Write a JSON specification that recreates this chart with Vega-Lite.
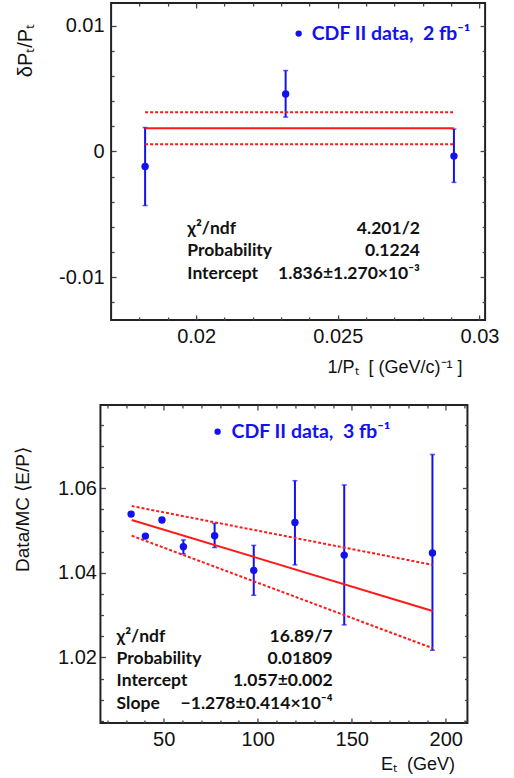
{
  "$schema": "https://vega.github.io/schema/vega-lite/v6.json",
  "background": "white",
  "padding": {"left": 12, "top": 1, "right": 0, "bottom": 0},
  "config": {
    "view": {"stroke": "#222", "strokeWidth": 2},
    "text": {"font": "Lato"},
    "axis": {"domain": false, "grid": false, "tickColor": "#444", "tickWidth": 1.3, "labelOverlap": false, "labelFlush": false, "labelBound": false, "labelFont": "Liberation Sans", "labelColor": "#111", "titleFont": "Liberation Sans", "titleColor": "#111", "titleFontWeight": "normal"}
  },
  "datasets": {
    "top_pts": [
      {"x": 0.0182, "y": -0.00119, "lo": -0.0043, "hi": 0.0019},
      {"x": 0.02316, "y": 0.00456, "lo": 0.00273, "hi": 0.00643},
      {"x": 0.0291, "y": -0.00037, "lo": -0.00246, "hi": 0.00178}
    ],
    "top_fit": [
      {"x": 0.0182, "y": 0.001836, "b": "fit"},
      {"x": 0.0291, "y": 0.001836, "b": "fit"},
      {"x": 0.0182, "y": 0.003106, "b": "up"},
      {"x": 0.0291, "y": 0.003106, "b": "up"},
      {"x": 0.0182, "y": 0.000566, "b": "lo"},
      {"x": 0.0291, "y": 0.000566, "b": "lo"}
    ],
    "top_leg": [{"x": 0.02362, "tx": 0.02408, "y": 0.00937, "t": "CDF II data,\u00a0 2 fb⁻¹"}],
    "top_stats": [
      {"x": 0.01969, "xv": 0.0279, "y": -0.00613, "label": "χ²/ndf", "val": "4.201/2"},
      {"x": 0.01969, "xv": 0.0279, "y": -0.00789, "label": "Probability", "val": "0.1224"},
      {"x": 0.01969, "xv": 0.0279, "y": -0.00971, "label": "Intercept", "val": "1.836±1.270×10⁻³"}
    ],
    "bot_pts": [
      {"x": 32.7, "y": 1.0539, "lo": 1.0534, "hi": 1.0544},
      {"x": 40.3, "y": 1.0487, "lo": 1.0482, "hi": 1.0492},
      {"x": 49.1, "y": 1.0525, "lo": 1.052, "hi": 1.053},
      {"x": 60.5, "y": 1.0462, "lo": 1.0445, "hi": 1.0478},
      {"x": 77.1, "y": 1.0488, "lo": 1.046, "hi": 1.0517},
      {"x": 97.9, "y": 1.0406, "lo": 1.0347, "hi": 1.0465},
      {"x": 119.8, "y": 1.0519, "lo": 1.0419, "hi": 1.0618},
      {"x": 146, "y": 1.0442, "lo": 1.0277, "hi": 1.0608},
      {"x": 192.9, "y": 1.0447, "lo": 1.0217, "hi": 1.068}
    ],
    "bot_fit": [
      {"x": 33, "y": 1.0525, "b": "fit"},
      {"x": 193, "y": 1.031, "b": "fit"},
      {"x": 33, "y": 1.0558, "b": "up"},
      {"x": 193, "y": 1.0419, "b": "up"},
      {"x": 33, "y": 1.0488, "b": "lo"},
      {"x": 193, "y": 1.0222, "b": "lo"}
    ],
    "bot_leg": [{"x": 78.7, "tx": 86.1, "y": 1.0734, "t": "CDF II data,\u00a0 3 fb⁻¹"}],
    "bot_stats": [
      {"x": 25, "xv": 139.8, "y": 1.0248, "label": "χ²/ndf", "val": "16.89/7"},
      {"x": 25, "xv": 139.8, "y": 1.0196, "label": "Probability", "val": "0.01809"},
      {"x": 25, "xv": 139.8, "y": 1.0144, "label": "Intercept", "val": "1.057±0.002"},
      {"x": 25, "xv": 139.8, "y": 1.009, "label": "Slope", "val": "−1.278±0.414×10⁻⁴"}
    ]
  },
  "concat": [
    {
      "width": 374,
      "height": 317,
      "resolve": {"scale": {"x": "independent", "y": "independent"}, "axis": {"x": "independent", "y": "independent"}},
      "layer": [
        {
          "data": {"name": "top_pts"},
          "mark": {"type": "rule", "color": "#1212f0", "strokeWidth": 2},
          "encoding": {
            "x": {"field": "x", "type": "quantitative",
              "scale": {"domain": [0.017, 0.0302], "nice": false, "zero": false},
              "axis": {"orient": "bottom", "values": [0.02, 0.025, 0.03], "tickSize": 0,
                "format": "~g", "labelFontSize": 20, "labelPadding": 6,
                "title": "1/Pₜ\u00a0 [ (GeV/c)⁻¹ ]", "titleFontSize": 18, "titleX": 351, "titleAlign": "right", "titlePadding": 12}},
            "y": {"field": "lo", "type": "quantitative",
              "scale": {"domain": [-0.0134, 0.0118], "nice": false, "zero": false},
              "axis": {"orient": "left", "values": [-0.01, 0, 0.01], "tickSize": 0,
                "labelExpr": "replace(format(datum.value,'~g'),'−','-')",
                "labelFontSize": 20, "labelPadding": 7,
                "title": "δPₜ/Pₜ", "titleFontSize": 20, "titleY": 47, "titleX": -76}},
            "y2": {"field": "hi"}
          }
        },
        {
          "data": {"name": "top_pts"},
          "mark": {"type": "tick", "orient": "horizontal", "color": "#1212f0", "size": 5, "thickness": 1.5},
          "encoding": {
            "x": {"field": "x", "type": "quantitative",
              "scale": {"domain": [0.017, 0.0302], "nice": false, "zero": false},
              "axis": {"orient": "bottom", "offset": -5, "tickSize": 5, "values": [0.02, 0.025, 0.03], "labels": false, "title": null}},
            "y": {"field": "hi", "type": "quantitative",
              "scale": {"domain": [-0.0134, 0.0118], "nice": false, "zero": false},
              "axis": {"orient": "left", "offset": -5, "tickSize": 5, "values": [-0.01, 0, 0.01], "labels": false, "title": null}}
          }
        },
        {
          "data": {"name": "top_pts"},
          "mark": {"type": "tick", "orient": "horizontal", "color": "#1212f0", "size": 5, "thickness": 1.5},
          "encoding": {
            "x": {"field": "x", "type": "quantitative",
              "scale": {"domain": [0.017, 0.0302], "nice": false, "zero": false},
              "axis": {"orient": "bottom", "offset": -3, "tickSize": 3, "values": [0.018, 0.019, 0.021, 0.022, 0.023, 0.024, 0.026, 0.027, 0.028, 0.029], "labels": false, "title": null}},
            "y": {"field": "lo", "type": "quantitative",
              "scale": {"domain": [-0.0134, 0.0118], "nice": false, "zero": false},
              "axis": {"orient": "left", "offset": -3, "tickSize": 3, "values": [-0.012, -0.008, -0.006, -0.004, -0.002, 0.002, 0.004, 0.006, 0.008], "labels": false, "title": null}}
          }
        },
        {
          "data": {"name": "top_fit"},
          "transform": [{"filter": "datum.b === 'fit'"}],
          "mark": {"type": "line", "color": "#ff1a1a", "strokeWidth": 2},
          "encoding": {
            "x": {"field": "x", "type": "quantitative",
              "scale": {"domain": [0.017, 0.0302], "nice": false, "zero": false},
              "axis": {"orient": "top", "offset": -5, "tickSize": 5, "values": [0.02, 0.025, 0.03], "labels": false, "title": null}},
            "y": {"field": "y", "type": "quantitative",
              "scale": {"domain": [-0.0134, 0.0118], "nice": false, "zero": false},
              "axis": {"orient": "right", "offset": -5, "tickSize": 5, "values": [-0.01, 0, 0.01], "labels": false, "title": null}}
          }
        },
        {
          "data": {"name": "top_fit"},
          "transform": [{"filter": "datum.b !== 'fit'"}],
          "mark": {"type": "line", "color": "#ff1a1a", "strokeWidth": 2, "strokeDash": [3, 2]},
          "encoding": {
            "x": {"field": "x", "type": "quantitative",
              "scale": {"domain": [0.017, 0.0302], "nice": false, "zero": false},
              "axis": {"orient": "top", "offset": -3, "tickSize": 3, "values": [0.018, 0.019, 0.021, 0.022, 0.023, 0.024, 0.026, 0.027, 0.028, 0.029], "labels": false, "title": null}},
            "y": {"field": "y", "type": "quantitative",
              "scale": {"domain": [-0.0134, 0.0118], "nice": false, "zero": false},
              "axis": {"orient": "right", "offset": -3, "tickSize": 3, "values": [-0.012, -0.008, -0.006, -0.004, -0.002, 0.002, 0.004, 0.006, 0.008], "labels": false, "title": null}},
            "detail": {"field": "b"}
          }
        },
        {
          "data": {"name": "top_pts"},
          "mark": {"type": "point", "filled": true, "opacity": 1, "color": "#1212f0", "size": 55},
          "encoding": {
            "x": {"field": "x", "type": "quantitative", "scale": {"domain": [0.017, 0.0302], "nice": false, "zero": false}, "axis": null},
            "y": {"field": "y", "type": "quantitative", "scale": {"domain": [-0.0134, 0.0118], "nice": false, "zero": false}, "axis": null}
          }
        },
        {
          "data": {"name": "top_leg"},
          "mark": {"type": "point", "filled": true, "opacity": 1, "color": "#1212f0", "size": 40},
          "encoding": {
            "x": {"field": "x", "type": "quantitative", "scale": {"domain": [0.017, 0.0302], "nice": false, "zero": false}, "axis": null},
            "y": {"field": "y", "type": "quantitative", "scale": {"domain": [-0.0134, 0.0118], "nice": false, "zero": false}, "axis": null}
          }
        },
        {
          "data": {"name": "top_leg"},
          "mark": {"type": "text", "align": "left", "baseline": "middle", "color": "#1212f0", "fontSize": 19.5, "fontWeight": "bold"},
          "encoding": {
            "x": {"field": "tx", "type": "quantitative", "scale": {"domain": [0.017, 0.0302], "nice": false, "zero": false}, "axis": null},
            "y": {"field": "y", "type": "quantitative", "scale": {"domain": [-0.0134, 0.0118], "nice": false, "zero": false}, "axis": null},
            "text": {"field": "t"}
          }
        },
        {
          "data": {"name": "top_stats"},
          "mark": {"type": "text", "align": "left", "baseline": "middle", "color": "#111", "fontSize": 17.5, "fontWeight": "bold"},
          "encoding": {
            "x": {"field": "x", "type": "quantitative", "scale": {"domain": [0.017, 0.0302], "nice": false, "zero": false}, "axis": null},
            "y": {"field": "y", "type": "quantitative", "scale": {"domain": [-0.0134, 0.0118], "nice": false, "zero": false}, "axis": null},
            "text": {"field": "label"}
          }
        },
        {
          "data": {"name": "top_stats"},
          "mark": {"type": "text", "align": "right", "baseline": "middle", "color": "#111", "fontSize": 17.5, "fontWeight": "bold"},
          "encoding": {
            "x": {"field": "xv", "type": "quantitative", "scale": {"domain": [0.017, 0.0302], "nice": false, "zero": false}, "axis": null},
            "y": {"field": "y", "type": "quantitative", "scale": {"domain": [-0.0134, 0.0118], "nice": false, "zero": false}, "axis": null},
            "text": {"field": "val"}
          }
        }
      ]
    },
    {
      "width": 367,
      "height": 318,
      "resolve": {"scale": {"x": "independent", "y": "independent"}, "axis": {"x": "independent", "y": "independent"}},
      "layer": [
        {
          "data": {"name": "bot_pts"},
          "mark": {"type": "rule", "color": "#1212f0", "strokeWidth": 2},
          "encoding": {
            "x": {"field": "x", "type": "quantitative",
              "scale": {"domain": [16.4, 211.5], "nice": false, "zero": false},
              "axis": {"orient": "bottom", "values": [50, 100, 150, 200], "tickSize": 0,
                "format": "d", "labelFontSize": 20, "labelPadding": 6,
                "title": "Eₜ\u00a0 (GeV)", "titleFontSize": 18, "titleX": 354, "titleAlign": "right", "titlePadding": 6}},
            "y": {"field": "lo", "type": "quantitative",
              "scale": {"domain": [1.0045, 1.0797], "nice": false, "zero": false},
              "axis": {"orient": "left", "values": [1.02, 1.04, 1.06], "tickSize": 0,
                "format": "~g", "labelFontSize": 20, "labelPadding": 4,
                "title": "Data/MC ⟨E/P⟩", "titleFontSize": 19, "titleY": 104, "titleX": -68}},
            "y2": {"field": "hi"}
          }
        },
        {
          "data": {"name": "bot_pts"},
          "mark": {"type": "tick", "orient": "horizontal", "color": "#1212f0", "size": 5, "thickness": 1.5},
          "encoding": {
            "x": {"field": "x", "type": "quantitative",
              "scale": {"domain": [16.4, 211.5], "nice": false, "zero": false},
              "axis": {"orient": "bottom", "offset": -5, "tickSize": 5, "values": [50, 100, 150, 200], "labels": false, "title": null}},
            "y": {"field": "hi", "type": "quantitative",
              "scale": {"domain": [1.0045, 1.0797], "nice": false, "zero": false},
              "axis": {"orient": "left", "offset": -5, "tickSize": 5, "values": [1.02, 1.04, 1.06], "labels": false, "title": null}}
          }
        },
        {
          "data": {"name": "bot_pts"},
          "mark": {"type": "tick", "orient": "horizontal", "color": "#1212f0", "size": 5, "thickness": 1.5},
          "encoding": {
            "x": {"field": "x", "type": "quantitative",
              "scale": {"domain": [16.4, 211.5], "nice": false, "zero": false},
              "axis": {"orient": "bottom", "offset": -3, "tickSize": 3, "values": [20, 30, 40, 60, 70, 80, 90, 110, 120, 130, 140, 160, 170, 180, 190, 210], "labels": false, "title": null}},
            "y": {"field": "lo", "type": "quantitative",
              "scale": {"domain": [1.0045, 1.0797], "nice": false, "zero": false},
              "axis": {"orient": "left", "offset": -3, "tickSize": 3, "values": [1.005, 1.01, 1.015, 1.025, 1.03, 1.035, 1.045, 1.05, 1.055, 1.065, 1.07, 1.075], "labels": false, "title": null}}
          }
        },
        {
          "data": {"name": "bot_fit"},
          "transform": [{"filter": "datum.b === 'fit'"}],
          "mark": {"type": "line", "color": "#ff1a1a", "strokeWidth": 2},
          "encoding": {
            "x": {"field": "x", "type": "quantitative",
              "scale": {"domain": [16.4, 211.5], "nice": false, "zero": false},
              "axis": {"orient": "top", "offset": -5, "tickSize": 5, "values": [50, 100, 150, 200], "labels": false, "title": null}},
            "y": {"field": "y", "type": "quantitative",
              "scale": {"domain": [1.0045, 1.0797], "nice": false, "zero": false},
              "axis": {"orient": "right", "offset": -5, "tickSize": 5, "values": [1.02, 1.04, 1.06], "labels": true, "labelExpr": "'0'", "labelOpacity": 0, "labelFontSize": 20, "labelPadding": 31, "title": null}}
          }
        },
        {
          "data": {"name": "bot_fit"},
          "transform": [{"filter": "datum.b !== 'fit'"}],
          "mark": {"type": "line", "color": "#ff1a1a", "strokeWidth": 2, "strokeDash": [3, 2]},
          "encoding": {
            "x": {"field": "x", "type": "quantitative",
              "scale": {"domain": [16.4, 211.5], "nice": false, "zero": false},
              "axis": {"orient": "top", "offset": -3, "tickSize": 3, "values": [20, 30, 40, 60, 70, 80, 90, 110, 120, 130, 140, 160, 170, 180, 190, 210], "labels": false, "title": null}},
            "y": {"field": "y", "type": "quantitative",
              "scale": {"domain": [1.0045, 1.0797], "nice": false, "zero": false},
              "axis": {"orient": "right", "offset": -3, "tickSize": 3, "values": [1.005, 1.01, 1.015, 1.025, 1.03, 1.035, 1.045, 1.05, 1.055, 1.065, 1.07, 1.075], "labels": false, "title": null}},
            "detail": {"field": "b"}
          }
        },
        {
          "data": {"name": "bot_pts"},
          "mark": {"type": "point", "filled": true, "opacity": 1, "color": "#1212f0", "size": 55},
          "encoding": {
            "x": {"field": "x", "type": "quantitative", "scale": {"domain": [16.4, 211.5], "nice": false, "zero": false}, "axis": null},
            "y": {"field": "y", "type": "quantitative", "scale": {"domain": [1.0045, 1.0797], "nice": false, "zero": false}, "axis": null}
          }
        },
        {
          "data": {"name": "bot_leg"},
          "mark": {"type": "point", "filled": true, "opacity": 1, "color": "#1212f0", "size": 40},
          "encoding": {
            "x": {"field": "x", "type": "quantitative", "scale": {"domain": [16.4, 211.5], "nice": false, "zero": false}, "axis": null},
            "y": {"field": "y", "type": "quantitative", "scale": {"domain": [1.0045, 1.0797], "nice": false, "zero": false}, "axis": null}
          }
        },
        {
          "data": {"name": "bot_leg"},
          "mark": {"type": "text", "align": "left", "baseline": "middle", "color": "#1212f0", "fontSize": 19.5, "fontWeight": "bold"},
          "encoding": {
            "x": {"field": "tx", "type": "quantitative", "scale": {"domain": [16.4, 211.5], "nice": false, "zero": false}, "axis": null},
            "y": {"field": "y", "type": "quantitative", "scale": {"domain": [1.0045, 1.0797], "nice": false, "zero": false}, "axis": null},
            "text": {"field": "t"}
          }
        },
        {
          "data": {"name": "bot_stats"},
          "mark": {"type": "text", "align": "left", "baseline": "middle", "color": "#111", "fontSize": 17.5, "fontWeight": "bold"},
          "encoding": {
            "x": {"field": "x", "type": "quantitative", "scale": {"domain": [16.4, 211.5], "nice": false, "zero": false}, "axis": null},
            "y": {"field": "y", "type": "quantitative", "scale": {"domain": [1.0045, 1.0797], "nice": false, "zero": false}, "axis": null},
            "text": {"field": "label"}
          }
        },
        {
          "data": {"name": "bot_stats"},
          "mark": {"type": "text", "align": "right", "baseline": "middle", "color": "#111", "fontSize": 17.5, "fontWeight": "bold"},
          "encoding": {
            "x": {"field": "xv", "type": "quantitative", "scale": {"domain": [16.4, 211.5], "nice": false, "zero": false}, "axis": null},
            "y": {"field": "y", "type": "quantitative", "scale": {"domain": [1.0045, 1.0797], "nice": false, "zero": false}, "axis": null},
            "text": {"field": "val"}
          }
        }
      ]
    }
  ],
  "columns": 1,
  "center": true,
  "spacing": 26
}
